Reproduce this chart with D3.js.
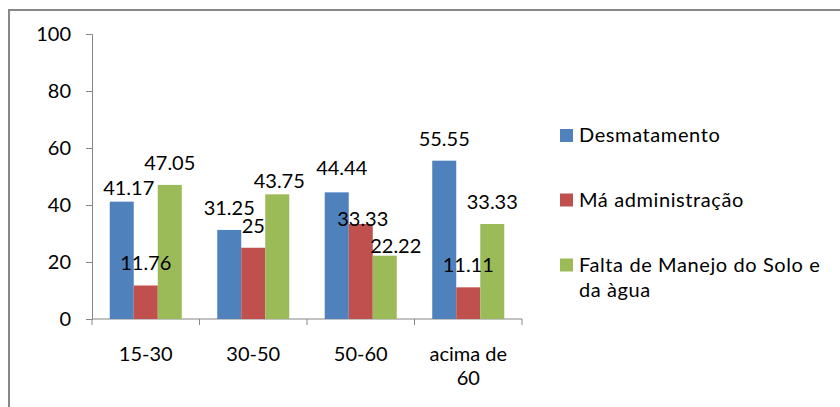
<!DOCTYPE html>
<html>
<head>
<meta charset="utf-8">
<script src="https://cdn.jsdelivr.net/npm/d3@7"></script>
<style>
  body { margin: 0; background: #fff; }
  svg { display: block; font-family: Lato, "Open Sans", sans-serif; }
</style>
</head>
<body>
<div id="vis"></div>
<script>
// chart values
const categories = ["15-30", "30-50", "50-60", "acima de 60"];
const series = ["Desmatamento", "Má administração", "Falta de Manejo do Solo e da àgua"];
const desmatamento = [41.17, 31.25, 44.44, 55.55];
const maAdministracao = [11.76, 25, 33.33, 11.11];
const faltaManejo = [47.05, 43.75, 22.22, 33.33];
const yTicks = [0, 20, 40, 60, 80, 100];

const colors = ["#4F81BD", "#C0504D", "#9BBB59"];
const values = [desmatamento, maAdministracao, faltaManejo];

const width = 840, height = 407;
const margin = { left: 92, right: 318, top: 34, bottom: 88 };

const svg = d3.select("#vis").append("svg")
    .attr("width", width)
    .attr("height", height);

// outer frame (runs past the right/bottom edge like the original)
svg.append("rect")
    .attr("x", 9).attr("y", 10)
    .attr("width", 860).attr("height", 420)
    .attr("fill", "none")
    .attr("stroke", "#878787")
    .attr("stroke-width", 2);

const x0 = d3.scaleBand()
    .domain(categories)
    .range([margin.left, width - margin.right])
    .paddingInner(0.33)
    .paddingOuter(0.165);

const x1 = d3.scaleBand()
    .domain(series)
    .range([0, x0.bandwidth()]);

const y = d3.scaleLinear()
    .domain([0, 100])
    .range([height - margin.bottom, margin.top]);

// y axis
const yAxis = svg.append("g")
    .attr("transform", `translate(${margin.left},0)`)
    .call(d3.axisLeft(y).tickValues(yTicks).tickSize(6).tickPadding(15));
yAxis.select(".domain").attr("stroke", "#868686");
yAxis.selectAll(".tick line").attr("stroke", "#868686");
yAxis.selectAll(".tick text")
    .attr("fill", "#000")
    .style("font-size", "20px")
    .style("font-family", "Lato, sans-serif");

// x axis: ticks on band edges
const step = x0.step();
const edges = d3.range(categories.length + 1).map(i => x0.range()[0] + i * step);
const xg = svg.append("g");
xg.append("line")
    .attr("x1", x0.range()[0]).attr("x2", x0.range()[1])
    .attr("y1", y(0)).attr("y2", y(0))
    .attr("stroke", "#868686");
xg.selectAll("line.tk")
    .data(edges)
    .join("line")
    .attr("class", "tk")
    .attr("x1", d => d).attr("x2", d => d)
    .attr("y1", y(0)).attr("y2", y(0) + 6)
    .attr("stroke", "#868686");

const xLabels = xg.selectAll("text")
    .data(categories)
    .join("text")
    .attr("x", d => x0(d) + x0.bandwidth() / 2)
    .attr("y", y(0) + 42)
    .attr("text-anchor", "middle")
    .style("font-size", "20px");
xLabels.each(function (d) {
    const t = d3.select(this);
    const words = d === "acima de 60" ? ["acima de", "60"] : [d];
    words.forEach((w, i) => {
        t.append("tspan")
            .attr("x", x0(d) + x0.bandwidth() / 2)
            .attr("dy", i === 0 ? 0 : 24)
            .text(w);
    });
});

const cells = series.flatMap((s, si) =>
    categories.map((c, ci) => ({ s, si, c, v: values[si][ci] })));

// bars
svg.append("g")
    .selectAll("rect")
    .data(cells)
    .join("rect")
    .attr("x", d => x0(d.c) + x1(d.s))
    .attr("y", d => y(d.v))
    .attr("width", x1.bandwidth())
    .attr("height", d => y(0) - y(d.v))
    .attr("fill", d => colors[d.si]);

// data labels on top of every bar; a few were moved by hand in the original
const nudge = {
    "Desmatamento|15-30": [7, 8],
    "Falta de Manejo do Solo e da àgua|30-50": [2, 9],
    "Má administração|50-60": [2, 17],
    "Falta de Manejo do Solo e da àgua|50-60": [11, 12],
    "Desmatamento|50-60": [5, -2]
};
svg.append("g")
    .selectAll("text")
    .data(cells)
    .join("text")
    .attr("x", d => x0(d.c) + x1(d.s) + x1.bandwidth() / 2 + ((nudge[d.s + "|" + d.c] || [0, 0])[0]))
    .attr("y", d => y(d.v) - 15 + ((nudge[d.s + "|" + d.c] || [0, 0])[1]))
    .attr("text-anchor", "middle")
    .attr("fill", "#000")
    .style("font-size", "20px")
    .text(d => d.v);

// legend
const legend = svg.append("g")
    .attr("transform", "translate(560,0)");
const legendY = [135.5, 200, 265];
const legendLines = [["Desmatamento"], ["Má administração"], ["Falta de Manejo do Solo e", "da àgua"]];
series.forEach((s, i) => {
    const g = legend.append("g").attr("transform", `translate(0,${legendY[i]})`);
    g.append("rect")
        .attr("x", 0).attr("y", -6.5)
        .attr("width", 13).attr("height", 13)
        .attr("fill", colors[i]);
    const t = g.append("text")
        .attr("x", 19)
        .attr("y", 6.5)
        .style("font-size", "20px")
        .style("letter-spacing", "0.6px");
    legendLines[i].forEach((line, j) => {
        t.append("tspan").attr("x", 19).attr("dy", j === 0 ? 0 : 25).text(line);
    });
});
</script>
</body>
</html>
